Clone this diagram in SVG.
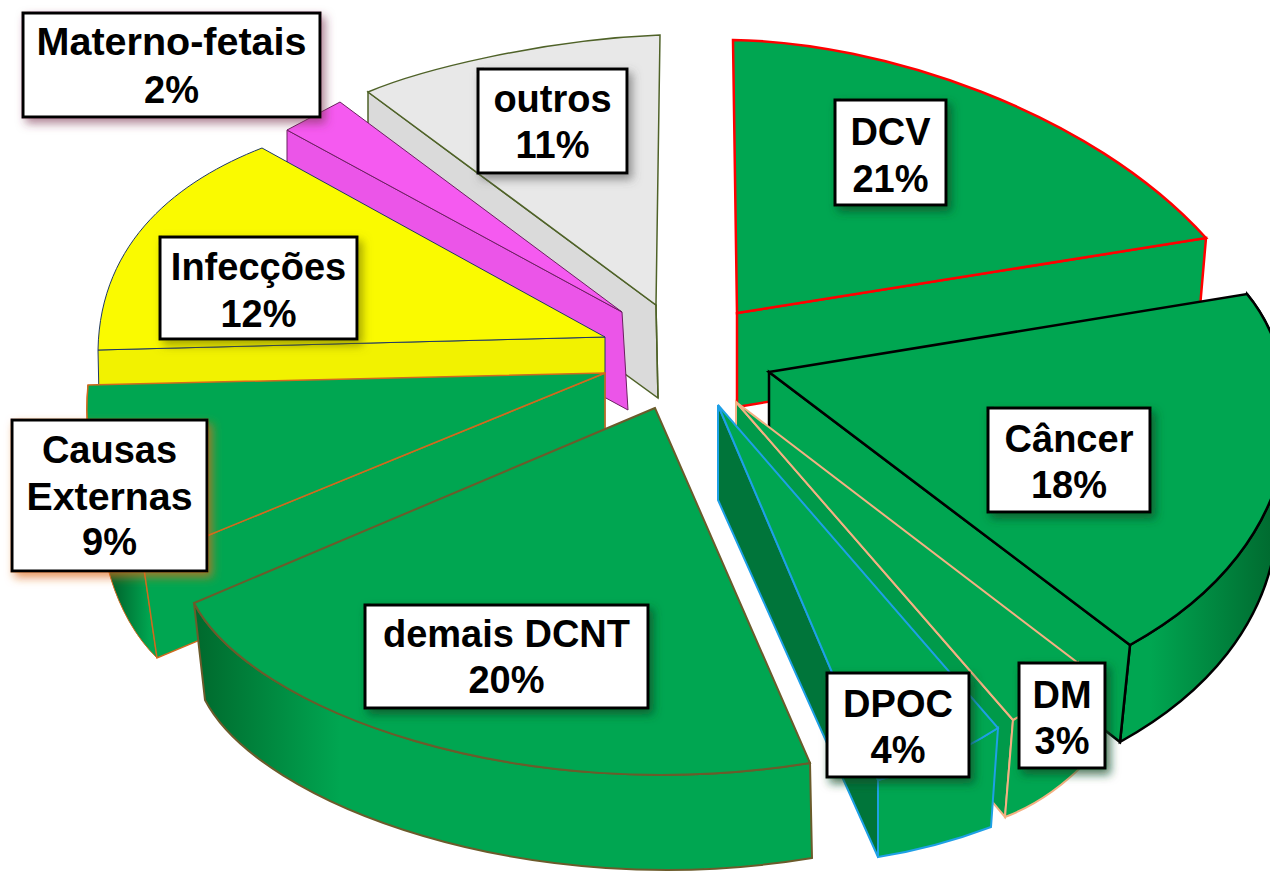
<svg xmlns="http://www.w3.org/2000/svg" width="1270" height="875" viewBox="0 0 1270 875">
<defs>
<style>
.lbl{fill:#FFFFFF;stroke:#000000;stroke-width:3}
.t{font-family:"Liberation Sans",Arial,sans-serif;font-weight:bold;font-size:38px;fill:#000000;text-anchor:middle}
.g{fill:#00A651}
.gd{fill:#009A4A}
</style>
<linearGradient id="gCancer" gradientUnits="userSpaceOnUse" x1="1150" y1="0" x2="1272" y2="0">
<stop offset="0" stop-color="#00A651"/><stop offset="1" stop-color="#006B30"/></linearGradient>
<linearGradient id="gDemais" gradientUnits="userSpaceOnUse" x1="200" y1="0" x2="340" y2="0">
<stop offset="0" stop-color="#006B2E"/><stop offset="1" stop-color="#00A651"/></linearGradient>
<linearGradient id="gCausas" gradientUnits="userSpaceOnUse" x1="108" y1="0" x2="150" y2="0">
<stop offset="0" stop-color="#005C28"/><stop offset="1" stop-color="#00A651"/></linearGradient>
<filter id="shG" x="-20%" y="-20%" width="150%" height="150%"><feDropShadow dx="4" dy="5" stdDeviation="5" flood-color="#0B4D2A" flood-opacity="0.75"/></filter>
<filter id="shP" x="-20%" y="-20%" width="150%" height="150%"><feDropShadow dx="4" dy="5" stdDeviation="5" flood-color="#7A3050" flood-opacity="0.6"/></filter>
<filter id="shO" x="-20%" y="-20%" width="150%" height="150%"><feDropShadow dx="4" dy="5" stdDeviation="5" flood-color="#E06A1A" flood-opacity="0.7"/></filter>
<filter id="shK" x="-20%" y="-20%" width="150%" height="150%"><feDropShadow dx="4" dy="5" stdDeviation="5" flood-color="#555555" flood-opacity="0.6"/></filter>
<filter id="shY" x="-20%" y="-20%" width="150%" height="150%"><feDropShadow dx="4" dy="5" stdDeviation="5" flood-color="#6B6B00" flood-opacity="0.6"/></filter>
</defs>
<rect width="1270" height="875" fill="#FFFFFF"/>

<g id="outros">
<path d="M368,92 L656,305 L658,398 L368,187 Z" fill="#DADADA" stroke="#4F6228" stroke-width="1.5"/>
<path d="M368,92 C420,70 540,40 660,35 L656,305 Z" fill="#E8E8E8" stroke="#4F6228" stroke-width="1.5"/>
<line x1="656" y1="305" x2="658" y2="398" stroke="#4F6228" stroke-width="1.5"/>
<rect class="lbl" x="478" y="69" width="149" height="104" filter="url(#shK)"/>
<text class="t" x="552.5" y="112">outros</text>
<text class="t" x="552.5" y="158">11%</text>
</g>

<g id="dcv">
<path d="M737,313 L1206,238 L1198,330 L737,407 Z" class="g" stroke="#FF0000" stroke-width="2.5"/>
<path d="M737,313 L733,40 C880,42 1090,110 1206,238 Z" class="g" stroke="#FF0000" stroke-width="2.5"/>
<rect class="lbl" x="835" y="100" width="111" height="105" filter="url(#shG)"/>
<text class="t" x="890.5" y="145">DCV</text>
<text class="t" x="890.5" y="192">21%</text>
</g>

<g id="materno-fetais">
<path d="M287,130 L622,312 L628,410 L287,225 Z" fill="#EB55E8" stroke="#6B2060" stroke-width="1"/>
<path d="M287,130 L340,102 L622,312 Z" fill="#F55AF0" stroke="#6B2060" stroke-width="1"/>
<rect class="lbl" x="23" y="13" width="297" height="104" filter="url(#shP)"/>
<text class="t" x="171.5" y="55" textLength="270" lengthAdjust="spacingAndGlyphs">Materno-fetais</text>
<text class="t" x="171.5" y="103">2%</text>
</g>

<g id="infeccoes">
<path d="M98,350 L605,337 L605,432 L100,445 Z" fill="#F2F200" stroke="#1F3864" stroke-width="1"/>
<path d="M605,337 L262,148 C180,180 100,240 98,350 Z" fill="#FAFA00" stroke="#1F3864" stroke-width="1"/>
<rect class="lbl" x="160" y="237" width="197" height="102" filter="url(#shY)"/>
<text class="t" x="258.5" y="280">Infecções</text>
<text class="t" x="258.5" y="327">12%</text>
</g>

<g id="causas-externas">
<path d="M88,385 C82,450 100,520 143,562 L157,658 C114,616 96,546 98,480 Z" fill="url(#gCausas)" stroke="#D2691E" stroke-width="1"/>
<path d="M605,373 L143,562 L157,658 L605,470 Z" class="g" stroke="#D2691E" stroke-width="1.5"/>
<path d="M605,373 L88,385 C82,450 100,520 143,562 Z" class="g" stroke="#D2691E" stroke-width="1.5"/>
<rect class="lbl" x="12" y="420" width="195" height="151" filter="url(#shO)"/>
<text class="t" x="109.5" y="463">Causas</text>
<text class="t" x="109.5" y="510" textLength="166" lengthAdjust="spacingAndGlyphs">Externas</text>
<text class="t" x="109.5" y="555">9%</text>
</g>

<g id="cancer">
<path d="M1247,294 C1310,370 1320,540 1130,645 L1120,742 C1310,637 1300,467 1237,391 Z" fill="url(#gCancer)" stroke="#000000" stroke-width="2.5"/>
<path d="M769,372 L1130,645 L1120,742 L769,467 Z" class="g" stroke="#000000" stroke-width="2.5"/>
<path d="M769,372 L1247,294 C1310,370 1320,540 1130,645 Z" class="g" stroke="#000000" stroke-width="2.5"/>
<rect class="lbl" x="988" y="408" width="162" height="104" filter="url(#shG)"/>
<text class="t" x="1069" y="452">Câncer</text>
<text class="t" x="1069" y="498">18%</text>
</g>

<g id="dm">
<path d="M736,402 L1013,720 L1005,817 L736,497 Z" class="gd" stroke="#F4B183" stroke-width="2"/>
<path d="M1013,720 Q1050,700 1078,663 L1088,760 Q1050,800 1005,817 Z" class="g" stroke="#F4B183" stroke-width="2"/>
<path d="M736,402 L1078,663 Q1050,700 1013,720 Z" class="g" stroke="#F4B183" stroke-width="2"/>
<rect class="lbl" x="1019" y="663" width="86" height="105" filter="url(#shG)"/>
<text class="t" x="1062" y="708">DM</text>
<text class="t" x="1062" y="754">3%</text>
</g>

<g id="dpoc">
<path d="M718,405 L878,780 L878,857 L718,500 Z" fill="#00753A" stroke="#1EA0E6" stroke-width="2"/>
<path d="M878,780 Q940,765 998,728 L991,827 Q935,848 878,857 Z" class="g" stroke="#1EA0E6" stroke-width="2"/>
<path d="M718,405 L878,780 Q940,765 998,728 Z" class="g" stroke="#1EA0E6" stroke-width="2"/>
<rect class="lbl" x="827" y="673" width="142" height="104" filter="url(#shG)"/>
<text class="t" x="898" y="717">DPOC</text>
<text class="t" x="898" y="763">4%</text>
</g>

<g id="demais-dcnt">
<path d="M194,603 C250,710 520,810 810,763 L812,858 C530,905 260,805 205,700 Z" fill="url(#gDemais)" stroke="#6B5B2B" stroke-width="2"/>
<path d="M655,408 L194,603 C250,710 520,810 810,763 Z" class="g" stroke="#6B5B2B" stroke-width="2"/>
<rect class="lbl" x="365" y="605" width="283" height="103" filter="url(#shG)"/>
<text class="t" x="506.5" y="647">demais DCNT</text>
<text class="t" x="506.5" y="693">20%</text>
</g>

<g id="connectors"/>
</svg>
